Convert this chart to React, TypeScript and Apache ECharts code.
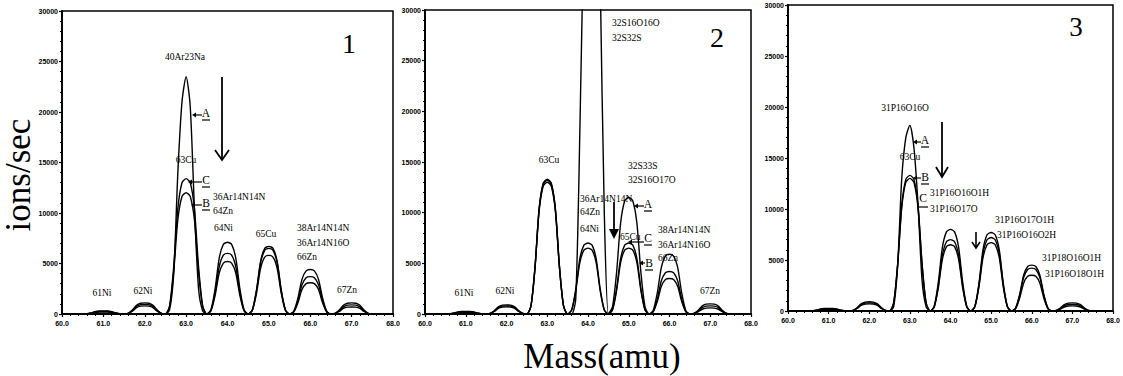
import React, { useEffect, useRef } from "react";
import * as echarts from "echarts";

// Mass axis sampling (amu)
const mass = [
  60.0, 60.1, 60.2, 60.3, 60.4, 60.5, 60.6, 60.7, 60.8, 60.9,
  61.0, 61.1, 61.2, 61.3, 61.4, 61.5, 61.6, 61.7, 61.8, 61.9,
  62.0, 62.1, 62.2, 62.3, 62.4, 62.5, 62.6, 62.7, 62.8, 62.9,
  63.0, 63.1, 63.2, 63.3, 63.4, 63.5, 63.6, 63.7, 63.8, 63.9,
  64.0, 64.1, 64.2, 64.3, 64.4, 64.5, 64.6, 64.7, 64.8, 64.9,
  65.0, 65.1, 65.2, 65.3, 65.4, 65.5, 65.6, 65.7, 65.8, 65.9,
  66.0, 66.1, 66.2, 66.3, 66.4, 66.5, 66.6, 66.7, 66.8, 66.9,
  67.0, 67.1, 67.2, 67.3, 67.4, 67.5, 67.6, 67.7, 67.8, 67.9,
  68.0,
];

const xTickLabels = ["60.0", "61.0", "62.0", "63.0", "64.0", "65.0", "66.0", "67.0", "68.0"];
const yTickLabels = ["0", "5000", "10000", "15000", "20000", "25000", "30000"];

// Panel 1
const p1A = [
  0, 0, 0, 0, 0, 0,
  18, 105, 234, 291, 300, 291, 234, 105, 18, 0,
  66, 385, 858, 1067, 1100, 1067, 858, 385, 66, 0,
  400, 4000, 14000, 21000, 23500, 20500, 10500, 2500, 300, 0,
  426, 2485, 5538, 6887, 7100, 6887, 5538, 2485, 426, 0,
  402, 2345, 5226, 6499, 6700, 6499, 5226, 2345, 402, 0,
  264, 1540, 3432, 4268, 4400, 4268, 3432, 1540, 264, 0,
  66, 385, 858, 1067, 1100, 1067, 858, 385, 66, 0,
  0, 0, 0, 0, 0,
];
const p1B = [
  0, 0, 0, 0, 0, 0,
  12, 70, 156, 194, 200, 194, 156, 70, 12, 0,
  48, 280, 624, 776, 800, 776, 624, 280, 48, 0,
  720, 4200, 9360, 11640, 12000, 11640, 9360, 4200, 720, 0,
  312, 1820, 4056, 5044, 5200, 5044, 4056, 1820, 312, 0,
  348, 2030, 4524, 5626, 5800, 5626, 4524, 2030, 348, 0,
  186, 1085, 2418, 3007, 3100, 3007, 2418, 1085, 186, 0,
  42, 245, 546, 679, 700, 679, 546, 245, 42, 0,
  0, 0, 0, 0, 0,
];
const p1C = [
  0, 0, 0, 0, 0, 0,
  15, 88, 195, 243, 250, 243, 195, 88, 15, 0,
  57, 333, 741, 922, 950, 922, 741, 333, 57, 0,
  804, 4690, 10452, 12998, 13400, 12998, 10452, 4690, 804, 0,
  360, 2100, 4680, 5820, 6000, 5820, 4680, 2100, 360, 0,
  390, 2275, 5070, 6305, 6500, 6305, 5070, 2275, 390, 0,
  222, 1295, 2886, 3589, 3700, 3589, 2886, 1295, 222, 0,
  54, 315, 702, 873, 900, 873, 702, 315, 54, 0,
  0, 0, 0, 0, 0,
];

// Panel 2
const p2A = [
  0, 0, 0, 0, 0, 0,
  15, 88, 195, 243, 250, 243, 195, 88, 15, 0,
  54, 315, 702, 873, 900, 873, 702, 315, 54, 0,
  798, 4655, 10374, 12901, 13300, 12901, 10374, 4655, 798, 0,
  0, 1500, 18000, 40000, 65000, 70000, 55000, 33000, 10000, 0,
  690, 4025, 8970, 11155, 11500, 11155, 8970, 4025, 690, 0,
  354, 2065, 4602, 5723, 5900, 5723, 4602, 2065, 354, 0,
  60, 350, 780, 970, 1000, 970, 780, 350, 60, 0,
  0, 0, 0, 0, 0,
];
const p2B = [
  0, 0, 0, 0, 0, 0,
  9, 53, 117, 146, 150, 146, 117, 53, 9, 0,
  42, 245, 546, 679, 700, 679, 546, 245, 42, 0,
  780, 4550, 10140, 12610, 13000, 12610, 10140, 4550, 780, 0,
  390, 2275, 5070, 6305, 6500, 6305, 5070, 2275, 390, 0,
  390, 2275, 5070, 6305, 6500, 6305, 5070, 2275, 390, 0,
  210, 1225, 2730, 3395, 3500, 3395, 2730, 1225, 210, 0,
  36, 210, 468, 582, 600, 582, 468, 210, 36, 0,
  0, 0, 0, 0, 0,
];
const p2C = [
  0, 0, 0, 0, 0, 0,
  12, 70, 156, 194, 200, 194, 156, 70, 12, 0,
  48, 280, 624, 776, 800, 776, 624, 280, 48, 0,
  792, 4620, 10296, 12804, 13200, 12804, 10296, 4620, 792, 0,
  420, 2450, 5460, 6790, 7000, 6790, 5460, 2450, 420, 0,
  420, 2450, 5460, 6790, 7000, 6790, 5460, 2450, 420, 0,
  252, 1470, 3276, 4074, 4200, 4074, 3276, 1470, 252, 0,
  48, 280, 624, 776, 800, 776, 624, 280, 48, 0,
  0, 0, 0, 0, 0,
];

// Panel 3
const p3A = [
  0, 0, 0, 0, 0, 0,
  15, 88, 195, 243, 250, 243, 195, 88, 15, 0,
  54, 315, 702, 873, 900, 873, 702, 315, 54, 0,
  400, 4500, 13000, 17000, 18200, 16000, 10500, 3000, 400, 0,
  480, 2800, 6240, 7760, 8000, 7760, 6240, 2800, 480, 0,
  462, 2695, 6006, 7469, 7700, 7469, 6006, 2695, 462, 0,
  270, 1575, 3510, 4365, 4500, 4365, 3510, 1575, 270, 0,
  48, 280, 624, 776, 800, 776, 624, 280, 48, 0,
  0, 0, 0, 0, 0,
];
const p3B = [
  0, 0, 0, 0, 0, 0,
  9, 53, 117, 146, 150, 146, 117, 53, 9, 0,
  42, 245, 546, 679, 700, 679, 546, 245, 42, 0,
  798, 4655, 10374, 12901, 13300, 12901, 10374, 4655, 798, 0,
  420, 2450, 5460, 6790, 7000, 6790, 5460, 2450, 420, 0,
  432, 2520, 5616, 6984, 7200, 6984, 5616, 2520, 432, 0,
  252, 1470, 3276, 4074, 4200, 4074, 3276, 1470, 252, 0,
  39, 228, 507, 631, 650, 631, 507, 228, 39, 0,
  0, 0, 0, 0, 0,
];
const p3C = [
  0, 0, 0, 0, 0, 0,
  12, 70, 156, 194, 200, 194, 156, 70, 12, 0,
  48, 280, 624, 776, 800, 776, 624, 280, 48, 0,
  780, 4550, 10140, 12610, 13000, 12610, 10140, 4550, 780, 0,
  390, 2275, 5070, 6305, 6500, 6305, 5070, 2275, 390, 0,
  402, 2345, 5226, 6499, 6700, 6499, 5226, 2345, 402, 0,
  210, 1225, 2730, 3395, 3500, 3395, 2730, 1225, 210, 0,
  30, 175, 390, 485, 500, 485, 390, 175, 30, 0,
  0, 0, 0, 0, 0,
];

const panels = [
  [p1A, p1B, p1C],
  [p2A, p2B, p2C],
  [p3A, p3B, p3C],
];
const curveNames = ["A", "B", "C"];

const SERIF = "Liberation Serif";
const SANS = "Liberation Sans";

function txt(x: number, y: number, s: string, size = 9.5, align = "left", family = SERIF): any {
  return {
    type: "text",
    x,
    y,
    z: 100,
    style: { text: s, fontSize: size, fontFamily: family, fill: "#000", align, verticalAlign: "middle" },
  };
}

function ln(x1: number, y1: number, x2: number, y2: number, w = 1.2): any {
  return { type: "line", z: 100, shape: { x1, y1, x2, y2 }, style: { stroke: "#000", lineWidth: w } };
}

function marker(tipX: number, tipY: number, letter: string, lx: number, ly: number): any[] {
  return [
    { type: "polygon", z: 100, shape: { points: [[tipX, tipY], [tipX + 4, tipY - 2.5], [tipX + 4, tipY + 2.5]] }, style: { fill: "#000" } },
    ln(tipX + 3, tipY, lx - 4, tipY),
    txt(lx, ly, letter, 11.5, "center"),
    ln(lx - 4, ly + 7, lx + 4, ly + 7),
  ];
}

function downArrow(x: number, y1: number, y2: number, hw: number, hh: number, w = 1.8): any[] {
  return [
    ln(x, y1, x, y2, w),
    { type: "polyline", z: 100, shape: { points: [[x - hw, y2 - hh], [x, y2], [x + hw, y2 - hh]] }, style: { stroke: "#000", lineWidth: w, fill: null } },
  ];
}

const grids = [
  { left: 62, top: 11, width: 331, height: 303 },
  { left: 425, top: 10, width: 326, height: 304 },
  { left: 788, top: 5, width: 325, height: 306 },
];

export default function App() {
  const ref = useRef<HTMLDivElement>(null);
  useEffect(() => {
    document.body.style.margin = "0";
    const chart = echarts.init(ref.current as HTMLDivElement, null, { renderer: "svg" });

    const series: any[] = [];
    panels.forEach((curves, gi) => {
      curves.forEach((ys, ci) => {
        series.push({
          type: "line",
          name: `${gi + 1}${curveNames[ci]}`,
          xAxisIndex: gi,
          yAxisIndex: gi,
          data: mass.map((m, i) => [m, ys[i]]),
          showSymbol: false,
          smooth: 0.25,
          clip: true,
          lineStyle: { color: "#000", width: 1.4 },
        });
      });
    });

    const graphic: any[] = [
      // axis titles
      {
        type: "text",
        x: 18,
        y: 175,
        rotation: Math.PI / 2,
        z: 100,
        style: { text: "ions/sec", fontSize: 35, fontFamily: SERIF, fill: "#000", align: "center", verticalAlign: "middle" },
      },
      txt(602, 356, "Mass(amu)", 35, "center"),
      // panel numbers
      txt(349, 43, "1", 28, "center"),
      txt(717, 37, "2", 28, "center"),
      txt(1076, 27, "3", 27, "center"),

      // panel 1 labels
      txt(185, 57, "40Ar23Na", 9.5, "center"),
      txt(186, 160, "63Cu", 9.5, "center"),
      txt(213, 197, "36Ar14N14N"),
      txt(213, 211, "64Zn"),
      txt(214, 228, "64Ni"),
      txt(266, 234, "65Cu", 9.5, "center"),
      txt(297, 228, "38Ar14N14N"),
      txt(297, 243, "36Ar14N16O"),
      txt(297, 257, "66Zn"),
      txt(102, 293, "61Ni", 9.5, "center"),
      txt(143, 291, "62Ni", 9.5, "center"),
      txt(347, 290, "67Zn", 9.5, "center"),
      ...marker(192, 115, "A", 206, 113),
      ...marker(188, 182, "C", 206, 180),
      ...marker(191, 205, "B", 206, 203),
      ...downArrow(222, 77, 160, 7, 10),

      // panel 2 labels
      txt(612, 23, "32S16O16O"),
      txt(612, 38, "32S32S"),
      txt(549, 160, "63Cu", 9.5, "center"),
      txt(628, 166, "32S33S"),
      txt(628, 180, "32S16O17O"),
      txt(580, 199, "36Ar14N14N"),
      txt(580, 212, "64Zn"),
      txt(580, 229, "64Ni"),
      txt(620, 237, "65Cu"),
      txt(658, 230, "38Ar14N14N"),
      txt(658, 245, "36Ar14N16O"),
      txt(658, 258, "66Zn"),
      txt(464, 293, "61Ni", 9.5, "center"),
      txt(505, 291, "62Ni", 9.5, "center"),
      txt(710, 291, "67Zn", 9.5, "center"),
      ...marker(634, 206, "A", 648, 204),
      ...marker(628, 242, "C", 648, 238),
      ...marker(639, 263, "B", 649, 263),
      ln(614, 202, 614, 232, 1.8),
      { type: "polygon", z: 100, shape: { points: [[609, 229], [619, 229], [614, 239]] }, style: { fill: "#000" } },

      // panel 3 labels
      txt(905, 108, "31P16O16O", 9.5, "center"),
      txt(910, 157, "63Cu", 9.5, "center"),
      txt(930, 193, "31P16O16O1H"),
      txt(930, 209, "31P16O17O"),
      txt(995, 220, "31P16O17O1H"),
      txt(997, 235, "31P16O16O2H"),
      txt(1042, 258, "31P18O16O1H"),
      txt(1045, 274, "31P16O18O1H"),
      ...marker(913, 142, "A", 925, 140),
      ...marker(913, 178, "B", 925, 177),
      txt(923, 198, "C", 11.5, "center"),
      ln(919, 207, 928, 207),
      ...downArrow(942, 122, 177, 6, 10),
      ...downArrow(976, 232, 248, 4, 6, 1.6),
    ];

    chart.setOption({
      animation: false,
      backgroundColor: "#fff",
      grid: grids.map((g) => ({ ...g, show: true, borderColor: "#000", borderWidth: 1.5, backgroundColor: "transparent" })),
      xAxis: grids.map((_, i) => ({
        type: "value",
        gridIndex: i,
        min: 60,
        max: 68,
        interval: 1,
        axisLine: { show: true, onZero: false, lineStyle: { color: "#000", width: 2 } },
        axisTick: { show: true, length: 3, lineStyle: { color: "#000", width: 1.2 } },
        minorTick: { show: true, splitNumber: 5, length: 2, lineStyle: { color: "#000" } },
        splitLine: { show: false },
        axisLabel: {
          color: "#000",
          fontSize: 7,
          fontWeight: "bold",
          fontFamily: SANS,
          margin: 6,
          formatter: (v: number) => xTickLabels[Math.round(v - 60)],
        },
      })),
      yAxis: grids.map((_, i) => ({
        type: "value",
        gridIndex: i,
        min: 0,
        max: 30000,
        interval: 5000,
        axisLine: { show: true, onZero: false, lineStyle: { color: "#000", width: 2 } },
        axisTick: { show: true, length: 3, lineStyle: { color: "#000", width: 1.2 } },
        minorTick: { show: true, splitNumber: 5, length: 2, lineStyle: { color: "#000" } },
        splitLine: { show: false },
        axisLabel: {
          color: "#000",
          fontSize: 7,
          fontWeight: "bold",
          fontFamily: SANS,
          margin: 4,
          formatter: (v: number) => yTickLabels[Math.round(v / 5000)],
        },
      })),
      series,
      graphic,
    });
    return () => chart.dispose();
  }, []);
  return <div ref={ref} style={{ width: 1123, height: 376 }} />;
}
